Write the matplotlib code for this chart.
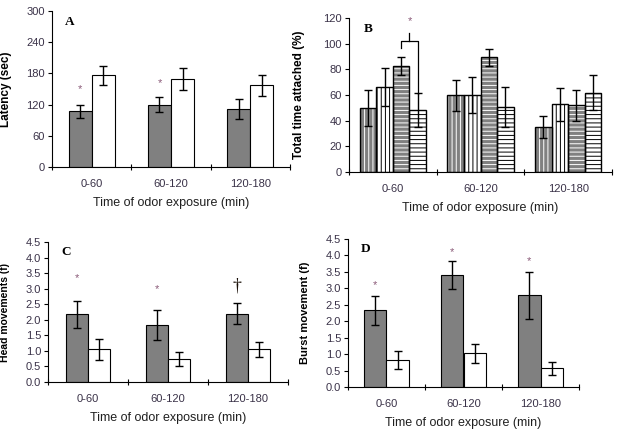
import matplotlib
matplotlib.use("Agg")
import matplotlib.pyplot as plt
import numpy as np

plt.rcParams['font.family'] = ['Liberation Sans', 'DejaVu Sans']
plt.rcParams['hatch.linewidth'] = 0.7

categories = ["0-60", "60-120", "120-180"]

# Panel A: Latency (sec)
A_gray = [107, 120, 111]
A_gray_err = [13, 15, 19.5]
A_white = [176, 169, 157]
A_white_err = [18, 21.5, 20.5]
A_stars = [150, 161, None]

# Panel B: Total time attached (%)
B_s1 = [49.6, 59.7, 35.1]
B_s1_err = [14, 12, 8.5]
B_s2 = [66.2, 59.7, 52.8]
B_s2_err = [14.7, 14, 13]
B_s3 = [82.8, 89.3, 52.0]
B_s3_err = [7, 6.5, 12.2]
B_s4 = [48.3, 50.4, 61.9]
B_s4_err = [13, 15.5, 13.4]

# Panel C: Head movements (f)
C_gray = [2.17, 1.82, 2.20]
C_gray_err = [0.43, 0.48, 0.34]
C_white = [1.05, 0.75, 1.05]
C_white_err = [0.34, 0.22, 0.24]
C_marks = ["*", "*", "\u2020"]
C_mark_y = [3.34, 2.98, 3.10]

# Panel D: Burst movement (f)
D_gray = [2.33, 3.41, 2.79]
D_gray_err = [0.43, 0.42, 0.72]
D_white = [0.82, 1.03, 0.57]
D_white_err = [0.27, 0.29, 0.19]
D_star_y = [3.11, 4.10, 3.82]

GRAY = '#808080'
TICKC = '#3a3248'
STARC = '#8a5a78'

fig = plt.figure(figsize=(6.29, 4.34), dpi=100)
W, H = 629, 434

def add_ax(left, right, top, bottom):
    return fig.add_axes([left / W, 1 - bottom / H, (right - left) / W, (bottom - top) / H])

axA = add_ax(52, 290, 11, 167)
axB = add_ax(349, 612, 18, 172)
axC = add_ax(48, 288, 242, 382)
axD = add_ax(348, 579, 239, 387)

def style(ax, ymax, ystep, fmt, ylabel, letter, label_x_px, ylsize):
    n = len(categories)
    ax.set_xlim(0, n)
    ax.set_ylim(0, ymax)
    ax.set_yticks(np.arange(0, ymax + ystep / 2, ystep))
    ax.yaxis.set_major_formatter(matplotlib.ticker.FormatStrFormatter(fmt))
    ax.set_xticks(np.arange(0, n + 1))
    ax.set_xticklabels([])
    ax.set_xticks(np.arange(n) + 0.5, minor=True)
    ax.set_xticklabels(categories, minor=True)
    ax.tick_params(axis='x', which='minor', length=0, pad=8.5, labelsize=8, labelcolor=TICKC)
    ax.tick_params(axis='x', which='major', length=4, direction='inout', width=0.8)
    ax.tick_params(axis='y', length=3, width=0.8, labelsize=8, labelcolor=TICKC, pad=2)
    for s in ['top', 'right']:
        ax.spines[s].set_visible(False)
    for s in ['left', 'bottom']:
        ax.spines[s].set_linewidth(0.8)
    ax.set_xlabel("Time of odor exposure (min)", fontsize=9, labelpad=6, color='#202020')
    ax.set_ylabel(ylabel, fontsize=ylsize, fontweight='bold')
    bb = ax.get_position()
    xa = (label_x_px / W - bb.x0) / bb.width
    ax.yaxis.set_label_coords(xa, 0.5)
    ax.text(0.055, 0.93, letter, transform=ax.transAxes, fontsize=9.5, fontweight='bold',
            family=['Liberation Serif', 'DejaVu Serif'], va='center', ha='left')

x = np.arange(len(categories)) + 0.5
ekw = dict(ecolor='black', elinewidth=1.0, capsize=2.8, capthick=1.0)

# Panel A
wA = 0.29
axA.bar(x - wA / 2, A_gray, wA, color=GRAY, edgecolor='black', linewidth=0.8,
        yerr=A_gray_err, error_kw=ekw, zorder=2)
axA.bar(x + wA / 2, A_white, wA, color='white', edgecolor='black', linewidth=0.8,
        yerr=A_white_err, error_kw=ekw, zorder=2)
for xi, sy in zip(x, A_stars):
    if sy is not None:
        axA.text(xi - wA / 2, sy, "*", ha='center', va='center', fontsize=8, color=STARC)
style(axA, 300, 60, '%d', "Latency (sec)", "A", 12, 8.5)

# Panel B
wB = 0.19
series = [(B_s1, B_s1_err, GRAY, 'white', '||||'),
          (B_s2, B_s2_err, 'white', 'black', '||||'),
          (B_s3, B_s3_err, GRAY, 'white', '----'),
          (B_s4, B_s4_err, 'white', 'black', '----')]
for i, (vals, errs, fc, hc, hatch) in enumerate(series):
    xi = x + (i - 1.5) * wB
    axB.bar(xi, vals, wB, facecolor=fc, edgecolor=hc, hatch=hatch, linewidth=0.01, zorder=2)
    axB.bar(xi, vals, wB, facecolor='none', edgecolor='black', linewidth=1.0,
            yerr=errs, error_kw=ekw, zorder=3)
# significance bracket between series 3 and 4 in first group
bx3 = x[0] + 0.5 * wB
bx4 = x[0] + 1.5 * wB
bm = x[0] + 1.0 * wB
axB.plot([bx3, bx3, bx4, bx4], [97, 102.3, 102.3, 61], color='black', lw=0.9, zorder=4)
axB.plot([bm, bm], [102.3, 108], color='black', lw=0.9, zorder=4)
axB.text(bm, 117.5, "*", ha='center', va='center', fontsize=8, color=STARC)
style(axB, 120, 20, '%d', "Total time attached (%)", "B", 305, 8.5)

# Panel C
wC = 0.27
axC.bar(x - wC / 2, C_gray, wC, color=GRAY, edgecolor='black', linewidth=0.8,
        yerr=C_gray_err, error_kw=ekw, zorder=2)
axC.bar(x + wC / 2, C_white, wC, color='white', edgecolor='black', linewidth=0.8,
        yerr=C_white_err, error_kw=ekw, zorder=2)
for xi, m, my in zip(x, C_marks, C_mark_y):
    if m == "*":
        axC.text(xi - wC / 2, my, m, ha='center', va='center', fontsize=8, color=STARC)
    else:
        axC.text(xi - wC / 2, my, m, ha='center', va='center', fontsize=13, color='#1a1008',
                 family=['Liberation Serif', 'DejaVu Serif'])
style(axC, 4.5, 0.5, '%.1f', "Head movements (f)", "C", 10, 7.5)

# Panel D
wD = 0.29
axD.bar(x - wD / 2, D_gray, wD, color=GRAY, edgecolor='black', linewidth=0.8,
        yerr=D_gray_err, error_kw=ekw, zorder=2)
axD.bar(x + wD / 2, D_white, wD, color='white', edgecolor='black', linewidth=0.8,
        yerr=D_white_err, error_kw=ekw, zorder=2)
for xi, sy in zip(x, D_star_y):
    axD.text(xi - wD / 2, sy, "*", ha='center', va='center', fontsize=8, color=STARC)
style(axD, 4.5, 0.5, '%.1f', "Burst movement (f)", "D", 310, 8)

fig.savefig("out.png", dpi=100)
